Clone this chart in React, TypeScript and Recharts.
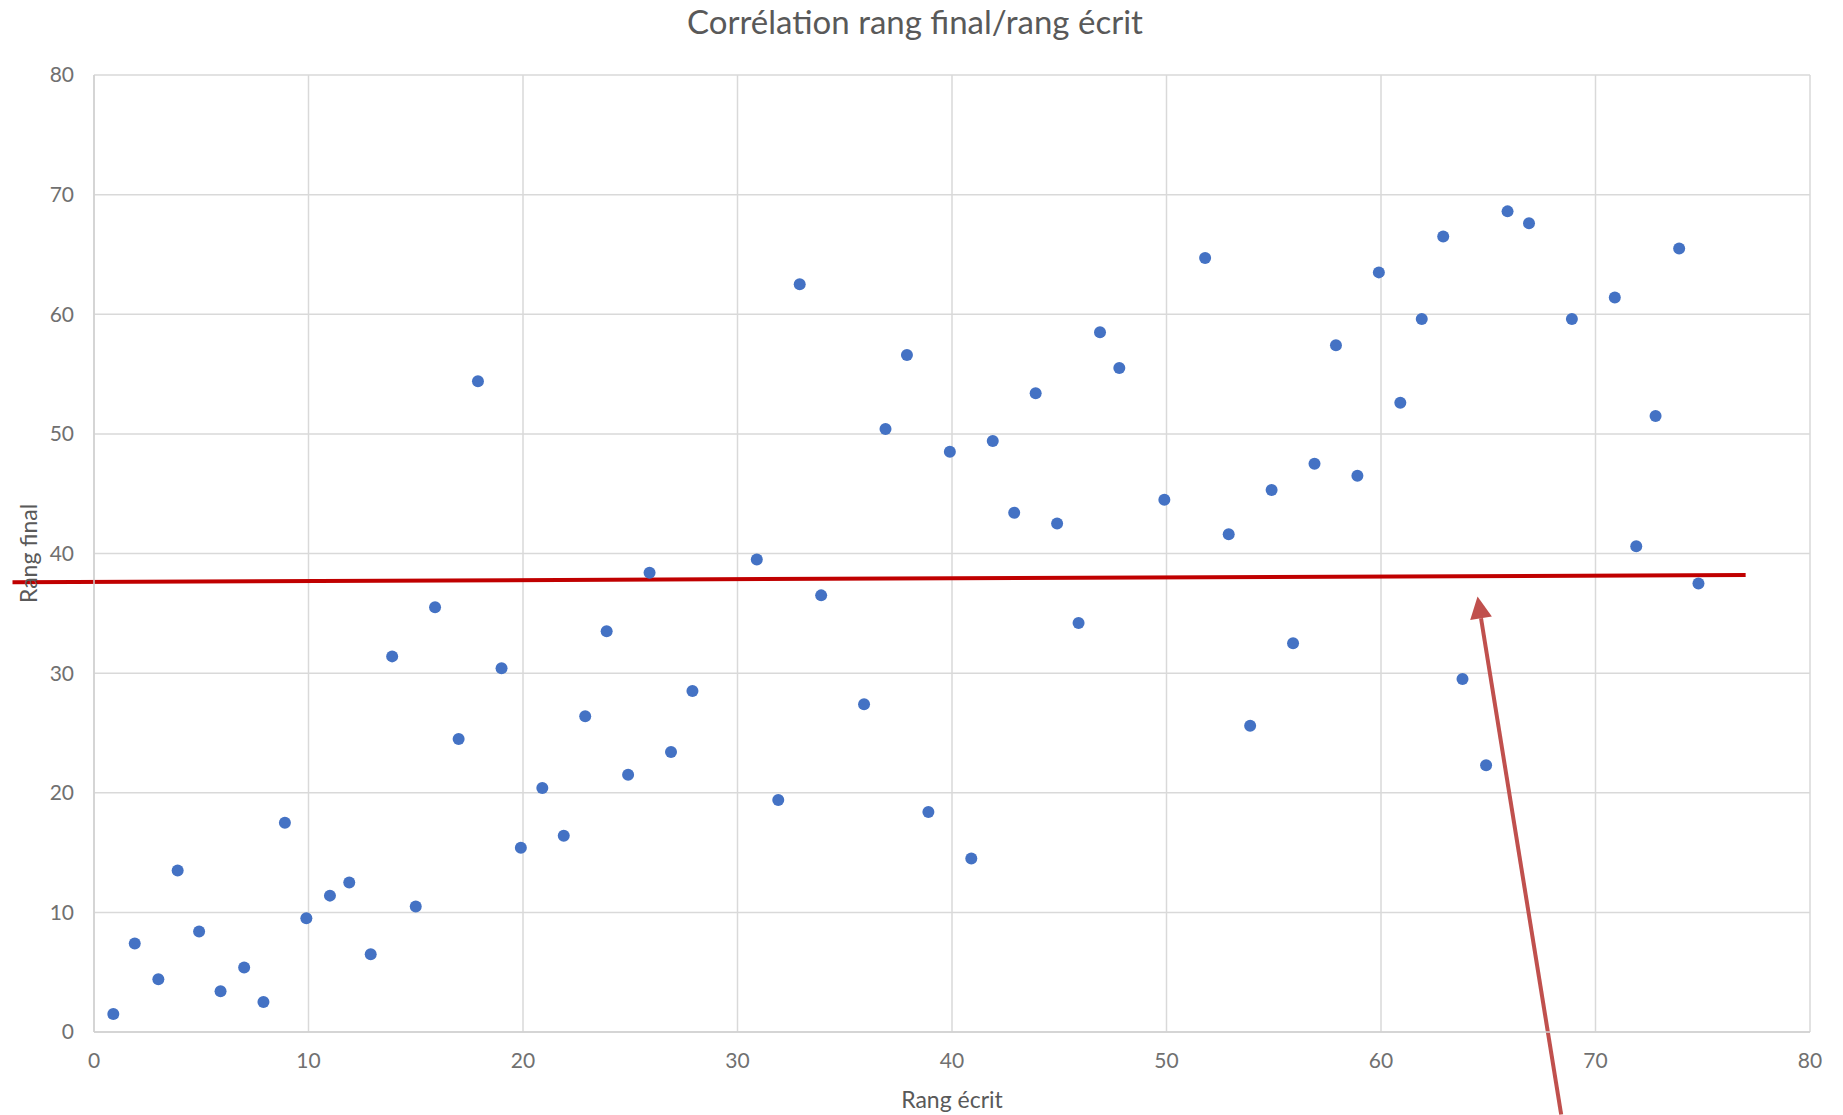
import {
  ScatterChart,
  Scatter,
  XAxis,
  YAxis,
  CartesianGrid,
  ReferenceLine
} from 'recharts';

// Rang écrit (abscisse) de chaque candidat
const rangEcrit = [
  0.9, 1.9, 3.0, 3.9, 4.9, 5.9, 7.0, 7.9, 8.9, 9.9,
  11.0, 11.9, 12.9, 13.9, 15.0, 15.9, 17.0, 17.9, 19.0, 19.9,
  20.9, 21.9, 22.9, 23.9, 24.9, 25.9, 26.9, 27.9,
  30.9, 31.9, 32.9, 33.9,
  35.9, 36.9, 37.9, 38.9, 39.9, 40.9, 41.9, 42.9, 43.9, 44.9, 45.9, 46.9, 47.8,
  49.9,
  51.8, 52.9, 53.9, 54.9, 55.9, 56.9, 57.9, 58.9, 59.9, 60.9, 61.9, 62.9, 63.8, 64.9, 65.9, 66.9,
  68.9,
  70.9, 71.9, 72.8, 73.9, 74.8
];

// Rang final (ordonnée)
const rangFinal = [
  1.5, 7.4, 4.4, 13.5, 8.4, 3.4, 5.4, 2.5, 17.5, 9.5,
  11.4, 12.5, 6.5, 31.4, 10.5, 35.5, 24.5, 54.4, 30.4, 15.4,
  20.4, 16.4, 26.4, 33.5, 21.5, 38.4, 23.4, 28.5,
  39.5, 19.4, 62.5, 36.5,
  27.4, 50.4, 56.6, 18.4, 48.5, 14.5, 49.4, 43.4, 53.4, 42.5, 34.2, 58.5, 55.5,
  44.5,
  64.7, 41.6, 25.6, 45.3, 32.5, 47.5, 57.4, 46.5, 63.5, 52.6, 59.6, 66.5, 29.5, 22.3, 68.6, 67.6,
  59.6,
  61.4, 40.6, 51.5, 65.5, 37.5
];

const axisTicks = [0, 10, 20, 30, 40, 50, 60, 70, 80];

// annotations dessinées à la main (coordonnées dans le repère des données)
const redLine = [{ x: -3.8, y: 37.6 }, { x: 77, y: 38.2 }];
const arrowLine = [{ x: 68.4, y: -6.9 }, { x: 64.5, y: 36.4 }];

const data = rangEcrit.map((x, i) => ({ x, y: rangFinal[i] }));

const FONT = 'Lato, "Open Sans", sans-serif';

const Dot = (props: any) => (
  <circle cx={props.cx} cy={props.cy} r={6} fill="#4472c4" />
);

const Arrow = (props: any) => {
  const { x1, y1, x2, y2 } = props;
  const ang = Math.atan2(y2 - y1, x2 - x1);
  const len = 22;
  const half = 11;
  const bx = x2 - len * Math.cos(ang);
  const by = y2 - len * Math.sin(ang);
  const px = -Math.sin(ang) * half;
  const py = Math.cos(ang) * half;
  return (
    <g>
      <line x1={x1} y1={y1} x2={bx} y2={by} stroke="#c0504d" strokeWidth={4} />
      <polygon
        points={`${x2},${y2} ${bx + px},${by + py} ${bx - px},${by - py}`}
        fill="#c0504d"
      />
    </g>
  );
};

export default function App() {
  return (
    <div style={{ position: 'absolute', left: 0, top: 0, width: 1843, height: 1115, background: '#fff', fontFamily: FONT }}>
      <div
        style={{
          position: 'absolute',
          left: 0,
          top: 1,
          width: 1830,
          textAlign: 'center',
          fontSize: 33,
          color: '#595959',
          lineHeight: '40px'
        }}
      >
        Corrélation rang final/rang écrit
      </div>
      <ScatterChart
        width={1843}
        height={1115}
        margin={{ top: 75, right: 33, bottom: 0, left: 0 }}
        style={{ fontFamily: FONT }}
      >
        <CartesianGrid stroke="#d9d9d9" strokeWidth={1.5} />
        <XAxis
          type="number"
          dataKey="x"
          domain={[0, 80]}
          ticks={axisTicks}
          height={83}
          tickLine={false}
          tickSize={0}
          tickMargin={21}
          axisLine={{ stroke: '#d0d0d0', strokeWidth: 1.5 }}
          tick={{ fill: '#707070', fontSize: 21 }}
          label={{
            content: (p: any) => {
              const vb = p.viewBox;
              return (
                <text x={vb.x + vb.width / 2} y={vb.y + vb.height - 7} textAnchor="middle" fill="#595959" fontSize={23}>
                  Rang écrit
                </text>
              );
            }
          }}
        />
        <YAxis
          type="number"
          dataKey="y"
          domain={[0, 80]}
          ticks={axisTicks}
          width={94}
          tickLine={false}
          tickSize={0}
          tickMargin={20}
          axisLine={{ stroke: '#d0d0d0', strokeWidth: 1.5 }}
          tick={{ fill: '#707070', fontSize: 21 }}
          label={{
            content: (p: any) => {
              const vb = p.viewBox;
              const cx = vb.x + 37;
              const cy = vb.y + vb.height / 2;
              return (
                <text x={cx} y={cy} textAnchor="middle" fill="#595959" fontSize={23} transform={`rotate(-90 ${cx} ${cy})`}>
                  Rang final
                </text>
              );
            }
          }}
        />
        <Scatter data={data} shape={Dot} isAnimationActive={false} />
        <ReferenceLine
          segment={redLine}
          ifOverflow="visible"
          stroke="#c00000"
          strokeWidth={4}
        />
        <ReferenceLine
          segment={arrowLine}
          ifOverflow="visible"
          shape={Arrow}
        />
      </ScatterChart>
    </div>
  );
}
